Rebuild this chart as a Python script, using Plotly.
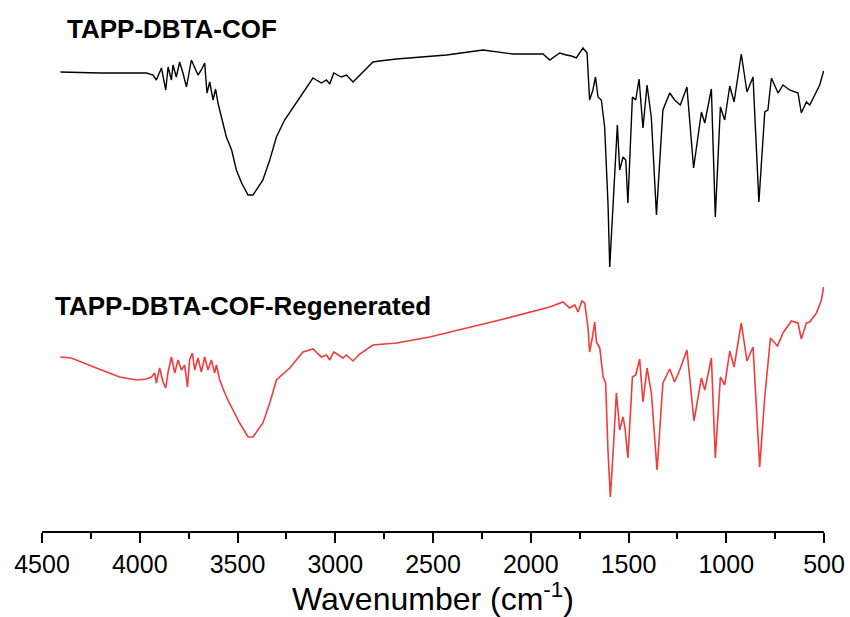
import plotly.graph_objects as go

# Wavenumber (cm-1) and transmittance (a.u., offset)
wn_cof = [4406, 4205, 3966, 3932, 3915, 3889, 3867, 3855, 3838, 3830, 3813, 3796, 3779, 3761,
          3736, 3719, 3702, 3685, 3668, 3656, 3642, 3625, 3612, 3600, 3582, 3557, 3530, 3506,
          3479, 3446, 3421, 3370, 3335, 3301, 3259, 3199, 3156, 3114, 3071, 3045, 3028, 3008,
          2969, 2943, 2909, 2858, 2807, 2773, 2687, 2431, 2244, 2091, 1937, 1903, 1852, 1818,
          1792, 1767, 1733, 1712, 1699, 1682, 1669, 1656, 1639, 1622, 1605, 1596, 1579, 1557,
          1545, 1528, 1514, 1503, 1480, 1463, 1446, 1426, 1405, 1383, 1357, 1324, 1289, 1264,
          1235, 1201, 1167, 1127, 1110, 1076, 1056, 1030, 1008, 982, 960, 923, 894, 863, 833,
          803, 787, 769, 735, 710, 676, 633, 616, 590, 573, 548, 522, 502]
t_cof = [45.9, 45.8, 45.8, 45.6, 45.1, 46.3, 44.1, 46.4, 45.1, 46.6, 45.4, 46.9, 45.8, 44.4,
         47.1, 46.3, 45.6, 46.1, 46.8, 43.8, 44.9, 43.1, 44.2, 42.8, 41.4, 39.4, 38.1, 36.1,
         34.8, 33.6, 33.6, 35.1, 37.1, 39.4, 41.1, 42.8, 44.1, 45.3, 44.8, 45.1, 44.7, 45.8,
         45.4, 45.6, 44.9, 45.9, 46.9, 47.0, 47.2, 47.6, 48.1, 47.7, 47.7, 47.1, 47.8, 47.6,
         47.5, 47.3, 48.3, 47.8, 43.1, 44.1, 45.4, 43.4, 43.1, 40.4, 32.8, 26.4, 32.1, 40.6,
         36.1, 37.4, 37.1, 32.8, 43.4, 43.1, 45.2, 40.3, 44.6, 41.3, 31.6, 42.1, 43.8, 43.1,
         42.6, 44.4, 36.3, 41.9, 40.8, 44.2, 31.4, 42.4, 41.1, 44.5, 42.9, 47.7, 43.9, 45.4, 32.9,
         41.9, 42.1, 45.3, 43.8, 44.6, 44.1, 43.8, 41.8, 42.9, 42.6, 43.6, 44.6, 46.0]

wn_reg = [4406, 4350, 4222, 4103, 4017, 3966, 3940, 3924, 3915, 3898, 3881, 3867, 3855, 3838,
          3821, 3804, 3787, 3770, 3756, 3745, 3731, 3719, 3702, 3685, 3668, 3651, 3634, 3617,
          3608, 3591, 3565, 3549, 3489, 3446, 3421, 3370, 3335, 3301, 3233, 3165, 3114, 3071,
          3045, 3028, 3008, 2960, 2943, 2909, 2875, 2807, 2687, 2517, 2159, 1903, 1835, 1801,
          1775, 1758, 1738, 1724, 1707, 1699, 1685, 1673, 1664, 1647, 1630, 1617, 1605, 1593,
          1579, 1562, 1545, 1528, 1518, 1503, 1480, 1463, 1443, 1426, 1405, 1383, 1354, 1324,
          1289, 1264, 1238, 1201, 1165, 1127, 1110, 1076, 1056, 1030, 1008, 982, 960, 923, 894,
          863, 829, 803, 774, 738, 710, 667, 633, 616, 590, 573, 539, 513, 502]
t_reg = [17.4, 17.3, 16.3, 15.4, 15.1, 15.2, 15.4, 15.8, 14.8, 16.3, 14.9, 14.3, 15.9, 17.4,
         15.8, 17.1, 16.1, 16.6, 14.4, 17.1, 17.8, 16.1, 17.3, 15.9, 17.4, 16.1, 17.1, 15.8,
         16.6, 15.1, 13.8, 13.1, 10.8, 9.4, 9.4, 10.8, 12.8, 15.1, 16.3, 17.9, 18.2, 17.4,
         17.6, 17.1, 17.9, 17.3, 17.6, 17.0, 17.7, 18.6, 18.8, 19.4, 21.1, 22.4, 22.9, 22.3,
         22.6, 21.9, 23.0, 22.8, 20.3, 17.9, 19.3, 20.9, 18.9, 18.3, 15.4, 14.8, 8.1, 3.4,
         7.8, 13.8, 10.1, 11.4, 10.3, 7.3, 15.4, 15.6, 17.2, 12.9, 16.3, 13.8, 6.1, 14.8,
         16.2, 14.9, 16.1, 18.1, 11.0, 15.3, 14.1, 17.3, 7.3, 15.4, 14.6, 18.0, 16.4, 20.8, 17.0,
         18.4, 6.4, 13.4, 19.3, 18.5, 19.8, 21.0, 20.8, 19.2, 20.8, 20.9, 21.8, 23.1, 24.4]

assert len(wn_cof) == len(t_cof), (len(wn_cof), len(t_cof))
assert len(wn_reg) == len(t_reg), (len(wn_reg), len(t_reg))

labels = ["TAPP-DBTA-COF", "TAPP-DBTA-COF-Regenerated"]
tick_vals = [4500, 4000, 3500, 3000, 2500, 2000, 1500, 1000, 500]

fig = go.Figure()
fig.add_trace(go.Scatter(x=wn_cof, y=t_cof, mode="lines", name=labels[0],
                         line=dict(color="#000000", width=1.4)))
fig.add_trace(go.Scatter(x=wn_reg, y=t_reg, mode="lines", name=labels[1],
                         line=dict(color="#F03C3C", width=1.6)))

fig.add_annotation(x=4384, y=50.2, xref="x", yref="y", text="<b>" + labels[0] + "</b>",
                   showarrow=False, xanchor="left", yanchor="middle",
                   font=dict(family="Arial, Liberation Sans", size=26, color="black"))
fig.add_annotation(x=4445, y=22.5, xref="x", yref="y", text="<b>" + labels[1] + "</b>",
                   showarrow=False, xanchor="left", yanchor="middle",
                   font=dict(family="Arial, Liberation Sans", size=26, color="black"))

fig.update_layout(
    width=850, height=617,
    margin=dict(l=42, r=26, t=0, b=86),
    paper_bgcolor="white", plot_bgcolor="white",
    showlegend=False,
    font=dict(family="Arial, Liberation Sans", color="black"),
    xaxis=dict(
        range=[4500, 500], autorange=False,
        tickvals=tick_vals, ticktext=[str(v) for v in tick_vals],
        ticks="outside", ticklen=10, tickwidth=2, tickcolor="black",
        minor=dict(ticks="outside", ticklen=6, tickwidth=2, tickcolor="black", dtick=250, tick0=500),
        showline=True, linewidth=2, linecolor="black",
        showgrid=False, zeroline=False,
        tickfont=dict(size=25, family="Arial, Liberation Sans", color="black"),
        title=dict(text="Wavenumber (cm<sup>-1</sup>)", standoff=4,
                   font=dict(size=32, family="Arial, Liberation Sans", color="black")),
    ),
    yaxis=dict(range=[0, 53.1], autorange=False, visible=False, showgrid=False, zeroline=False),
)

fig.write_html("out.html")
